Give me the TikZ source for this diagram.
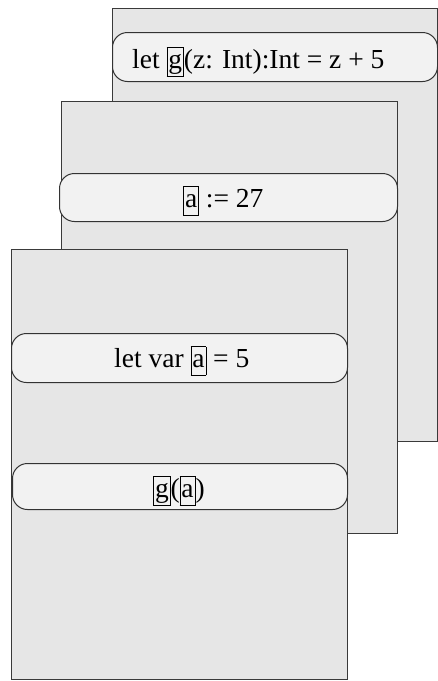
\documentclass[tikz,border=0pt]{standalone}
\usepackage{fontspec}
\setmainfont{Liberation Serif}
\definecolor{pagefill}{HTML}{E6E6E6}
\definecolor{stmtfill}{HTML}{F2F2F2}
\definecolor{edge}{HTML}{3A3A3A}
% boxed identifier
\newcommand{\ident}[1]{{\setlength{\fboxsep}{1pt}\setlength{\fboxrule}{0.8pt}\fbox{\rule[-7pt]{0pt}{26pt}#1}}}
\tikzset{
  frame/.style={draw=edge, fill=pagefill, line width=1.2pt, inner sep=0pt, anchor=north west},
  stmt/.style={draw=black!80, fill=stmtfill, line width=1pt, rounded corners=15pt, inner sep=0pt, anchor=north west},
  code/.style={inner sep=0pt, anchor=base west, font=\fontsize{27.5}{33}\selectfont}
}
\begin{document}
\begin{tikzpicture}[x=1pt,y=-1pt]
\useasboundingbox (0,0) rectangle (438,681);
% outermost scope
\node[frame, minimum width=325pt, minimum height=433pt] (scopeA) at (112,8) {};
\node[stmt, minimum width=325pt, minimum height=49pt] (defg) at (112,32) {};
\node[code] (defgtxt) at (132,68) {let \ident{g}(z: Int):Int = z + 5};
% middle scope
\node[frame, minimum width=336pt, minimum height=432pt] (scopeB) at (61,101) {};
\node[stmt, minimum width=338pt, minimum height=48pt] (assign) at (59,173) {};
\node[code] (assigntxt) at (183,207) {\ident{a} := 27};
% innermost scope
\node[frame, minimum width=336pt, minimum height=430pt] (scopeC) at (11,249) {};
\node[stmt, minimum width=336pt, minimum height=49pt] (decla) at (11,333) {};
\node[code] (declatxt) at (114,367) {let var \ident{a} = 5};
\node[stmt, minimum width=335pt, minimum height=46pt] (call) at (12,463) {};
\node[code] (calltxt) at (153,497) {\ident{g}(\ident{a})};
\end{tikzpicture}
\end{document}
